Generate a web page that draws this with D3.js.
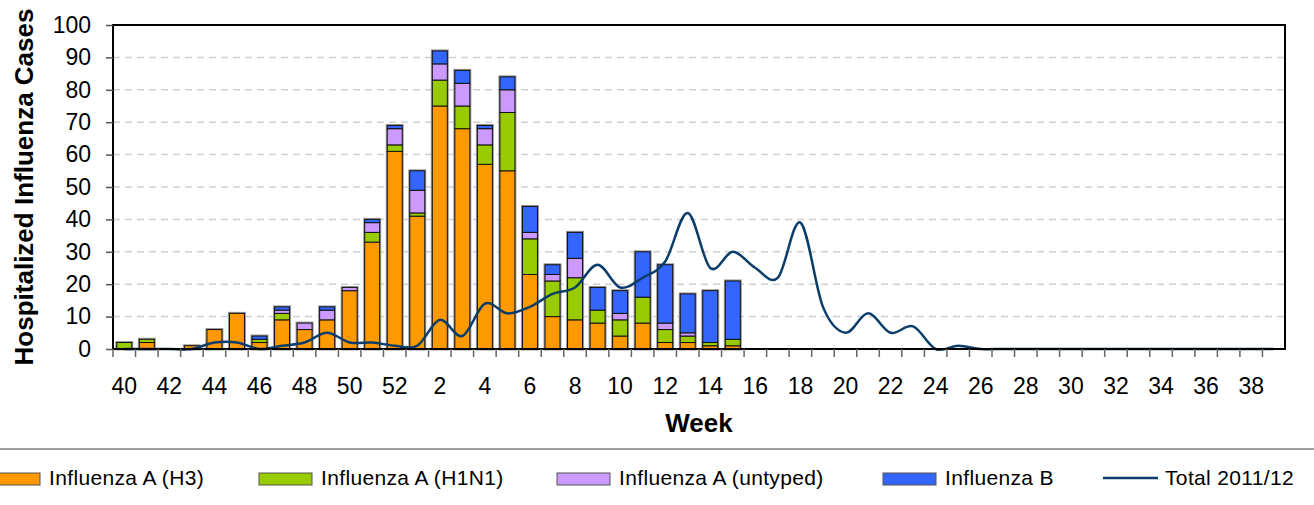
<!DOCTYPE html>
<html>
<head>
<meta charset="utf-8">
<script src="https://cdn.jsdelivr.net/npm/d3@7"></script>
<style>
  body { margin: 0; background: #fff; }
  text { font-family: "Liberation Sans", Arial, sans-serif; fill: #000; }
</style>
</head>
<body>
<div id="my_dataviz"></div>
<script>
// week numbers, season runs from week 40 to week 39
const weeks = [40,41,42,43,44,45,46,47,48,49,50,51,52,
  1,2,3,4,5,6,7,8,9,10,11,12,13,14,15,16,17,18,19,20,
  21,22,23,24,25,26,27,28,29,30,31,32,33,34,35,36,37,38,39];
const weekLabels = [40,42,44,46,48,50,52,2,4,6,8,10,12,14,16,18,20,22,24,26,28,30,32,34,36,38];
const yTicks = [0,10,20,30,40,50,60,70,80,90,100];

// bars: weeks 40 .. 15
const barWeeks = [40,41,42,43,44,45,46,47,48,49,50,51,52,1,2,3,4,5,6,7,8,9,10,11,12,13,14,15];
const h3      = [0,2,0,1,6,11,2,9,6,9,18,33,61,41,75,68,57,55,23,10,9,8,4,8,2,2,1,1];
const h1n1    = [2,1,0,0,0,0,1,2,0,0,0,3,2,1,8,7,6,18,11,11,13,4,5,8,4,2,1,2];
const untyped = [0,0,0,0,0,0,0,1,2,3,1,3,5,7,5,7,5,7,2,2,6,0,2,0,2,1,0,0];
const fluB    = [0,0,0,0,0,0,1,1,0,1,0,1,1,6,4,4,1,4,8,3,8,7,7,14,18,12,16,18];

// line: total of the 2011/12 season, weeks 40 .. 39
const total1112 = [0,0,0,0,2,2,0,1,2,5,2,2,1,1,9,4,14,11,13,17,19,26,19,22,27,42,25,30,25,22,39,13,5,11,5,7,0,1,
  0,0,0,0,0,0,0,0,0,0,0,0,0,0];

const seriesNames = ["Influenza A (H3)", "Influenza A (H1N1)", "Influenza A (untyped)", "Influenza B"];
const colors = ["#ff9900", "#99cc00", "#cc99ff", "#3366ff"];

const margin = {top: 25, right: 29, bottom: 156, left: 113},
    width = 1314 - margin.left - margin.right,
    height = 505 - margin.top - margin.bottom;

const root = d3.select("#my_dataviz")
  .append("svg")
    .attr("width", 1314)
    .attr("height", 505);

const svg = root.append("g")
    .attr("transform", `translate(${margin.left},${margin.top})`);

// scales
const pad = 0.335;
const x = d3.scaleBand()
  .domain(weeks.map(String))
  .range([0, width])
  .paddingInner(pad)
  .paddingOuter(pad / 2);

const y = d3.scaleLinear()
  .domain([0, 100])
  .range([height, 0]);

// grid lines
svg.append("g")
  .selectAll("line")
  .data(yTicks.filter(d => d > 0 && d < 100))
  .join("line")
    .attr("x1", 0)
    .attr("x2", width)
    .attr("y1", d => y(d))
    .attr("y2", d => y(d))
    .attr("stroke", "#d0d0d0")
    .attr("stroke-width", 1.5)
    .attr("stroke-dasharray", "7,5");

// stacked bars
const table = barWeeks.map((w, i) => ({
  week: String(w), h3: h3[i], h1n1: h1n1[i], untyped: untyped[i], b: fluB[i]
}));
const keys = ["h3", "h1n1", "untyped", "b"];
const stacked = d3.stack().keys(keys)(table);

// soft grey halo round each column
svg.append("g")
  .selectAll("rect")
  .data(table.filter(d => d.h3 + d.h1n1 + d.untyped + d.b > 0))
  .join("rect")
    .attr("x", d => x(d.week))
    .attr("y", d => y(d.h3 + d.h1n1 + d.untyped + d.b))
    .attr("width", x.bandwidth())
    .attr("height", d => height - y(d.h3 + d.h1n1 + d.untyped + d.b))
    .attr("fill", "none")
    .attr("stroke", "#999")
    .attr("stroke-width", 3);

svg.append("g")
  .selectAll("g")
  .data(stacked)
  .join("g")
    .attr("fill", (d, i) => colors[i])
  .selectAll("rect")
  .data(d => d.filter(s => s[1] - s[0] > 0))
  .join("rect")
    .attr("x", d => x(d.data.week))
    .attr("y", d => y(d[1]))
    .attr("width", x.bandwidth())
    .attr("height", d => y(d[0]) - y(d[1]))
    .attr("stroke", "#111")
    .attr("stroke-width", 1);

// total line
const line = d3.line()
  .x((d, i) => x(String(weeks[i])) + x.bandwidth() / 2)
  .y(d => y(d))
  .curve(d3.curveCatmullRom.alpha(0));

svg.append("path")
  .datum(total1112)
  .attr("fill", "none")
  .attr("stroke", "#0b3d6b")
  .attr("stroke-width", 2.5)
  .attr("d", line);

// frame
svg.append("rect")
  .attr("width", width)
  .attr("height", height)
  .attr("fill", "none")
  .attr("stroke", "#000")
  .attr("stroke-width", 2);

// Y axis
const yAxis = svg.append("g")
  .call(d3.axisLeft(y).tickValues(yTicks).tickSize(7).tickPadding(15));
yAxis.select(".domain").remove();
yAxis.selectAll(".tick line").attr("stroke", "#555").attr("stroke-width", 1.5);
yAxis.selectAll("text")
  .style("font-family", "'Liberation Sans', Arial, sans-serif")
  .style("font-size", "23px")
  .attr("fill", "#000");

// X axis: boundary ticks between weeks
const step = x.step();
svg.append("g")
  .selectAll("line")
  .data(weeks.map(String))
  .join("line")
    .attr("x1", d => x(d) - step * pad / 2)
    .attr("x2", d => x(d) - step * pad / 2)
    .attr("y1", height)
    .attr("y2", height + 8)
    .attr("stroke", "#666")
    .attr("stroke-width", 1.5);

const xAxis = svg.append("g")
  .attr("transform", `translate(0, ${height})`)
  .call(d3.axisBottom(x).tickValues(weekLabels.map(String)).tickSize(0).tickPadding(29));
xAxis.select(".domain").remove();
xAxis.selectAll("text")
  .style("font-family", "'Liberation Sans', Arial, sans-serif")
  .style("font-size", "23px")
  .attr("fill", "#000");

// axis titles
svg.append("text")
  .attr("x", width / 2)
  .attr("y", height + 83)
  .attr("text-anchor", "middle")
  .style("font-size", "26px")
  .style("font-weight", "bold")
  .text("Week");

root.append("text")
  .attr("transform", `translate(33, ${margin.top + height / 2}) rotate(-90)`)
  .attr("text-anchor", "middle")
  .style("font-size", "26px")
  .style("font-weight", "bold")
  .text("Hospitalized Influenza Cases");

// legend
root.append("line")
  .attr("x1", 0).attr("x2", 1314)
  .attr("y1", 449).attr("y2", 449)
  .attr("stroke", "#808080")
  .attr("stroke-width", 1.5);

const legendX = [-13, 259, 557, 883];
const legend = root.append("g");
seriesNames.forEach((name, i) => {
  legend.append("rect")
    .attr("x", legendX[i])
    .attr("y", 473)
    .attr("width", 53)
    .attr("height", 12)
    .attr("fill", colors[i])
    .attr("stroke", "#555")
    .attr("stroke-width", 1);
  legend.append("text")
    .attr("x", legendX[i] + 62)
    .attr("y", 485)
    .style("font-size", "21px")
    .style("letter-spacing", "0.35px")
    .text(name);
});
legend.append("line")
  .attr("x1", 1103).attr("x2", 1158)
  .attr("y1", 478).attr("y2", 478)
  .attr("stroke", "#0b3d6b")
  .attr("stroke-width", 2.5);
legend.append("text")
  .attr("x", 1165)
  .attr("y", 485)
  .style("font-size", "21px")
  .style("letter-spacing", "0.35px")
  .text("Total 2011/12");
</script>
</body>
</html>
